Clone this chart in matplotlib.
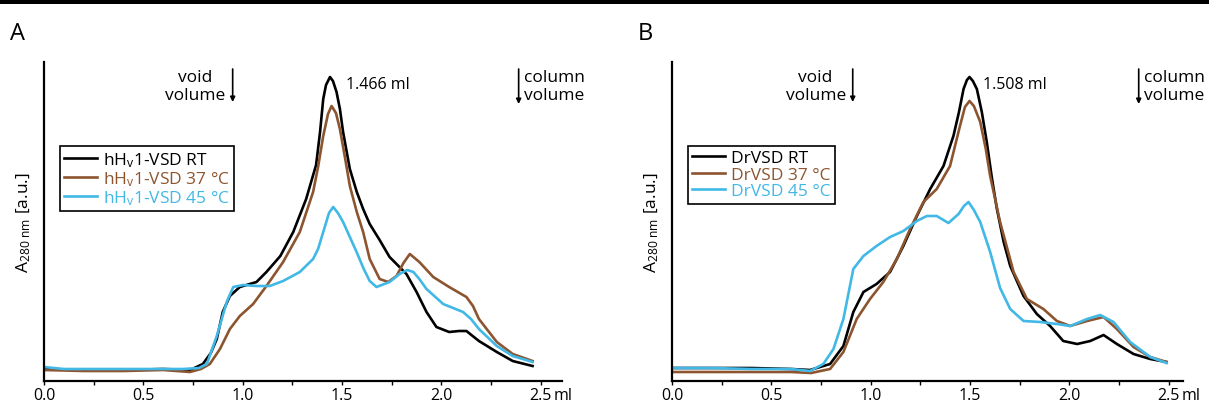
import matplotlib
matplotlib.use("Agg")
import matplotlib.pyplot as plt
from matplotlib.patches import Rectangle
from matplotlib.ticker import MultipleLocator

plt.rcParams['font.family'] = ['Open Sans', 'DejaVu Sans']
plt.rcParams['mathtext.fontset'] = 'custom'
plt.rcParams['mathtext.rm'] = 'Open Sans'
plt.rcParams['mathtext.it'] = 'Open Sans:italic'

BLACK = 'black'
BROWN = '#8C5530'
BLUE = '#41B8E6'

# ---- panel A: hHv1-VSD (elution volume in ml, absorbance in a.u.)
a_rt_x = [0, 0.2, 0.4, 0.6, 0.735, 0.80, 0.84, 0.87, 0.90, 0.936, 0.986, 1.07, 1.12, 1.19, 1.255, 1.32,
          1.37, 1.39, 1.406, 1.42, 1.44, 1.455, 1.473, 1.49, 1.506, 1.54, 1.575, 1.607, 1.64, 1.69,
          1.74, 1.79, 1.825, 1.876, 1.926, 1.976, 2.04, 2.09, 2.127, 2.19, 2.28, 2.36, 2.46]
a_rt_y = [18, 17, 17, 18, 17, 23, 34, 48, 75, 91, 100, 105, 115, 131, 155, 188,
          222, 255, 288, 302, 310, 306, 295, 278, 255, 218, 195, 178, 163, 147,
          130, 120, 113, 95, 75, 60, 55, 56, 56, 46, 35, 26, 21]

a_37_x = [0, 0.2, 0.4, 0.6, 0.735, 0.79, 0.835, 0.886, 0.936, 0.986, 1.053, 1.12, 1.204, 1.288, 1.355,
          1.38, 1.406, 1.43, 1.448, 1.47, 1.49, 1.515, 1.54, 1.575, 1.607, 1.64, 1.69, 1.733, 1.775,
          1.81, 1.842, 1.89, 1.96, 2.04, 2.127, 2.16, 2.19, 2.28, 2.36, 2.46]
a_37_y = [17, 16, 16, 17, 15, 18, 23, 38, 58, 71, 83, 101, 125, 155, 195,
          220, 251, 273, 281, 274, 258, 230, 201, 175, 155, 128, 108, 105, 111,
          124, 133, 125, 110, 100, 90, 81, 68, 45, 33, 26]

a_45_x = [0, 0.1, 0.3, 0.5, 0.7, 0.78, 0.82, 0.87, 0.92, 0.953, 1.003, 1.07, 1.137, 1.204, 1.288, 1.355,
          1.38, 1.406, 1.435, 1.456, 1.48, 1.506, 1.54, 1.574, 1.61, 1.64, 1.674, 1.74, 1.79, 1.83,
          1.86, 1.89, 1.926, 2.01, 2.11, 2.15, 2.19, 2.28, 2.36, 2.46]
a_45_y = [20, 18, 18, 18, 18, 19, 23, 51, 85, 100, 102, 101, 101, 106, 115, 128,
          138, 155, 174, 180, 174, 165, 150, 135, 118, 106, 100, 105, 113, 117,
          115, 108, 98, 83, 75, 68, 58, 41, 31, 25]

# ---- panel B: DrVSD
b_rt_x = [0, 0.2, 0.4, 0.6, 0.695, 0.796, 0.863, 0.913, 0.964, 1.03, 1.098, 1.165, 1.233, 1.30, 1.367,
          1.417, 1.445, 1.468, 1.485, 1.498, 1.515, 1.535, 1.56, 1.585, 1.61, 1.636, 1.67, 1.703, 1.77,
          1.837, 1.904, 1.97, 2.04, 2.106, 2.173, 2.24, 2.324, 2.408, 2.49]
b_rt_y = [19, 19, 19, 18, 17, 23, 41, 75, 95, 103, 115, 141, 171, 198, 221,
          251, 275, 298, 307, 310, 306, 298, 275, 245, 210, 178, 145, 121, 91,
          73, 61, 46, 43, 46, 52, 43, 33, 28, 25]

b_37_x = [0, 0.2, 0.4, 0.6, 0.7, 0.796, 0.863, 0.93, 0.997, 1.064, 1.132, 1.199, 1.266, 1.333, 1.40,
          1.45, 1.475, 1.498, 1.52, 1.552, 1.58, 1.602, 1.652, 1.72, 1.787, 1.87, 1.938, 2.005, 2.09,
          2.173, 2.24, 2.324, 2.408, 2.49]
b_37_y = [15, 15, 15, 15, 14, 18, 35, 68, 88, 105, 128, 158, 185, 198, 221,
          261, 280, 286, 281, 265, 238, 211, 165, 115, 88, 78, 66, 61, 66,
          70, 58, 40, 30, 25]

b_45_x = [0, 0.2, 0.4, 0.6, 0.695, 0.762, 0.813, 0.863, 0.89, 0.913, 0.964, 1.03, 1.098, 1.165, 1.233,
          1.283, 1.333, 1.392, 1.443, 1.47, 1.493, 1.52, 1.552, 1.602, 1.652, 1.703, 1.77, 1.854, 1.938,
          2.005, 2.09, 2.156, 2.223, 2.307, 2.408, 2.49]
b_45_y = [19, 19, 18, 18, 16, 23, 38, 68, 95, 118, 131, 141, 150, 156, 166,
          171, 171, 164, 173, 181, 185, 177, 165, 135, 99, 78, 66, 65, 63,
          61, 68, 72, 65, 45, 30, 24]

tick_vals = [0.0, 0.5, 1.0, 1.5, 2.0, 2.5]
tick_labels = ['0.0', '0.5', '1.0', '1.5', '2.0', '2.5']

W, H = 1209, 410
fig = plt.figure(figsize=(W / 100, H / 100), dpi=100)
fig.add_artist(Rectangle((0, 1 - 5 / H), 1, 5 / H, transform=fig.transFigure,
                         color='black', lw=0))


def make_panel(left_px, right_px, letter, series, labels, peak_txt, peak_x,
               void_x, col_x):
    # x axis line at 382 px from the top, y axis top at 63 px
    ax = fig.add_axes([left_px / W, 28 / H, (right_px - left_px) / W, 319 / H])
    xmax = (right_px - left_px) / 198.6
    for (x, y), lab, c in zip(series, labels, [BLACK, BROWN, BLUE]):
        ax.plot(x, y, color=c, lw=1.9, label=lab, solid_joinstyle='round')
    ax.set_xlim(0, xmax)
    ax.set_ylim(6, 325)
    for s in ['top', 'right']:
        ax.spines[s].set_visible(False)
    ax.spines['left'].set_linewidth(1.6)
    ax.spines['bottom'].set_linewidth(1.6)
    ax.set_yticks([])
    ax.set_xticks(tick_vals)
    ax.set_xticklabels(tick_labels)
    ax.xaxis.set_minor_locator(MultipleLocator(0.25))
    ax.tick_params(axis='x', which='both', direction='out', length=3, width=1,
                   labelsize=11.5, pad=1)
    ax.annotate('ml', xy=(2.5, 0), xycoords=('data', 'axes fraction'),
                xytext=(9.5, -4), textcoords='offset points', ha='left', va='top',
                fontsize=11.5)
    ax.set_ylabel(r'A$_{\mathregular{280\ nm}}$ [a.u.]', fontsize=12.5, labelpad=8)

    leg = ax.legend(loc='upper left', bbox_to_anchor=(16 / (right_px - left_px), 0.737),
                    borderaxespad=0, frameon=True, fancybox=False, framealpha=1,
                    edgecolor='black', fontsize=12.5, handlelength=1.9,
                    handletextpad=0.3, labelspacing=0.02, borderpad=0.25)
    leg.get_frame().set_linewidth(1.2)
    for t, c in zip(leg.get_texts(), [BLACK, BROWN, BLUE]):
        t.set_color(c)

    ax.text(peak_x, 303, peak_txt, ha='left', va='center', fontsize=11.5)

    arrow = dict(arrowstyle='-|>', lw=1.2, color='black', mutation_scale=7,
                 shrinkA=0, shrinkB=0)
    ax.annotate('', xy=(void_x, 285), xytext=(void_x, 318), arrowprops=arrow,
                annotation_clip=False)
    ax.text(void_x - 0.035, 301, 'void\nvolume', ha='right', va='center',
            multialignment='center', fontsize=12.5, linespacing=1.15)
    ax.annotate('', xy=(col_x, 283), xytext=(col_x, 318), arrowprops=arrow,
                annotation_clip=False)
    ax.text(col_x + 0.025, 301, 'column\nvolume', ha='left', va='center',
            multialignment='left', fontsize=12.5, linespacing=1.15)

    fig.text((left_px - 34) / W, 1 - 40 / H, letter, fontsize=17)
    return ax


make_panel(44, 562, 'A',
           [(a_rt_x, a_rt_y), (a_37_x, a_37_y), (a_45_x, a_45_y)],
           [r'hH$_\mathregular{v}$1-VSD RT', r'hH$_\mathregular{v}$1-VSD 37 °C',
            r'hH$_\mathregular{v}$1-VSD 45 °C'],
           '1.466 ml', 1.52, 0.95, 2.39)
make_panel(672, 1183, 'B',
           [(b_rt_x, b_rt_y), (b_37_x, b_37_y), (b_45_x, b_45_y)],
           ['DrVSD RT', 'DrVSD 37 °C', 'DrVSD 45 °C'],
           '1.508 ml', 1.565, 0.91, 2.35)

fig.savefig('out.png', dpi=100)
